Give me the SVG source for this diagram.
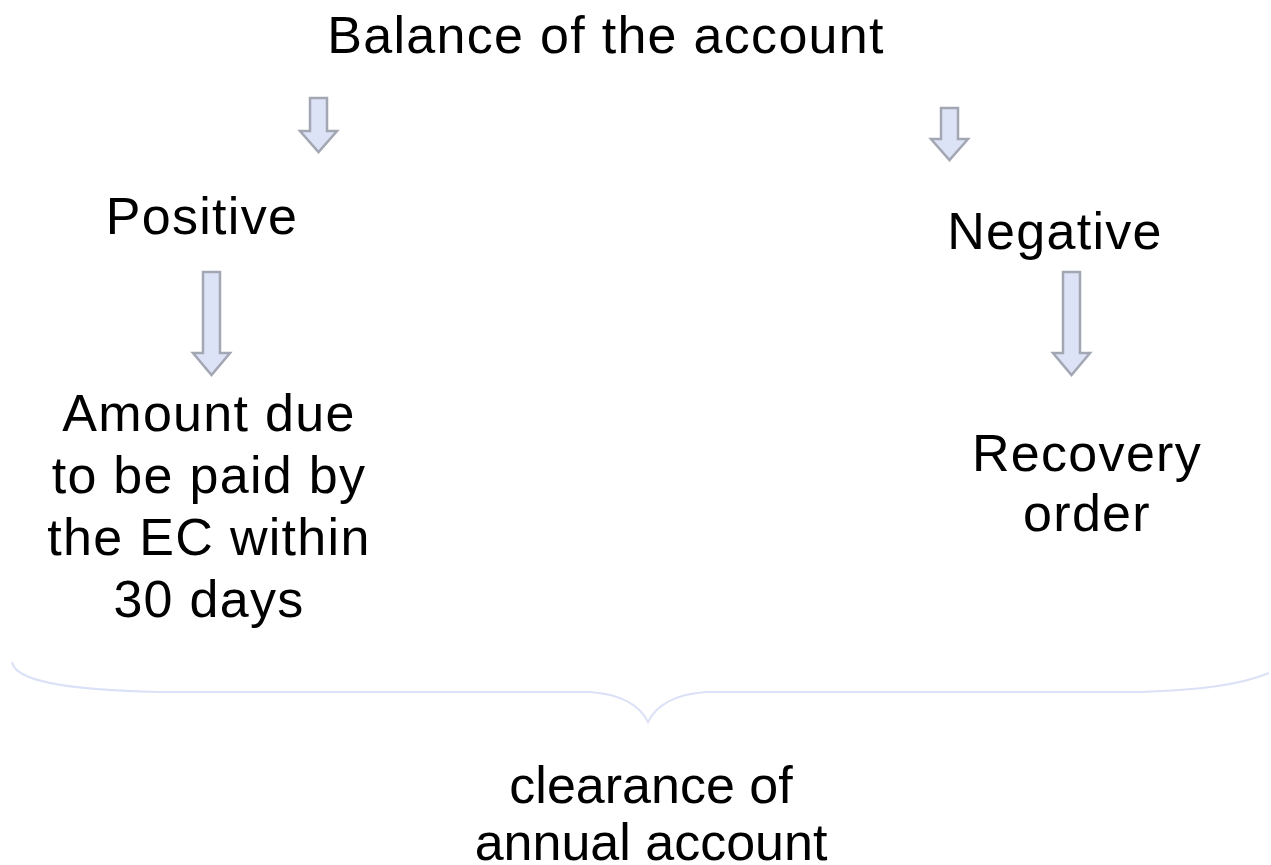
<svg xmlns="http://www.w3.org/2000/svg" width="1271" height="865" viewBox="0 0 1271 865">
<style>
text{font-family:"Liberation Sans",Arial,sans-serif;font-size:52px;letter-spacing:1.3px;fill:#000;text-anchor:middle}
text.tight{letter-spacing:0px}
.arr{fill:#dde3f6;stroke:#a3a7b3;stroke-width:2.5;stroke-linejoin:miter}
.brace{fill:none;stroke:#dbe1f6;stroke-width:2}
</style>
<rect width="1271" height="865" fill="#fff"/>
<g id="title"><text x="606" y="53">Balance of the account</text></g>
<g id="connectors">
<path class="arr" d="M310,98 H327 V131 H337 L318.5,152 L300,131 H310 Z"/>
<path class="arr" d="M941,108 H958 V139 H968 L949.5,160 L931,139 H941 Z"/>
<path class="arr" d="M203,272 H220 V353 H230 L211.5,375 L193,353 H203 Z"/>
<path class="arr" d="M1063,272 H1080 V353 H1090 L1071.5,375 L1053,353 H1063 Z"/>
</g>
<g id="positive"><text x="202" y="234">Positive</text></g>
<g id="negative"><text x="1055" y="249">Negative</text></g>
<g id="amount"><text x="209" y="431">Amount due</text><text x="209" y="493">to be paid by</text><text x="209" y="555">the EC within</text><text x="209" y="617">30 days</text></g>
<g id="recovery"><text x="1087" y="471">Recovery</text><text x="1087" y="531">order</text></g>
<g id="brace"><path class="brace" d="M12,662 C15,680 60,690 160,692 H590 C620,694 640,705 648,722 C656,705 676,694 706,692 H1140 C1200,690 1240,685 1269,673"/></g>
<g id="clearance"><text class="tight" x="651" y="803">clearance of</text><text class="tight" x="651" y="860">annual account</text></g>
</svg>
